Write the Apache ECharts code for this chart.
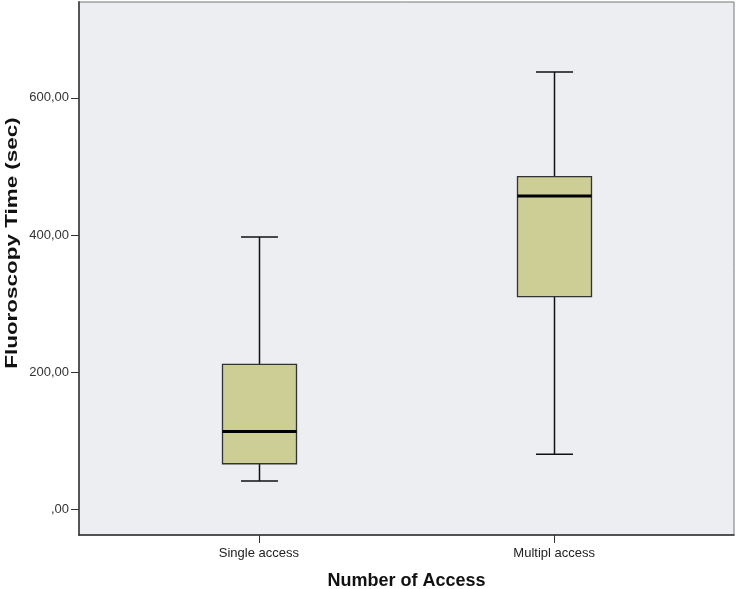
<!DOCTYPE html>
<html>
<head>
<meta charset="utf-8">
<script src="https://cdn.jsdelivr.net/npm/echarts@6/dist/echarts.min.js"></script>
<style>
  html, body { margin: 0; padding: 0; background: #fff; }
  #chart { width: 739px; height: 589px; }
</style>
</head>
<body>
<div id="chart"></div>
<script>
// groups on the x axis
const categories = ['Single access', 'Multipl access'];
const positions = [1, 2];
// five-number summaries (sec)
const mins = [41, 80];
const q1s = [66, 310];
const medians = [113, 457];
const q3s = [211, 485];
const maxs = [397, 638];
// y tick labels
const yTicks = [0, 200, 400, 600];

const boxData = positions.map((p, i) => [p, mins[i], q1s[i], medians[i], q3s[i], maxs[i]]);

const BOX_W = 74;
const CAP_W = 37;
const FONT = 'Liberation Sans, Arial, sans-serif';

function fmt(v) {
  // SPSS style: comma decimal, no leading zero
  return v === 0 ? ',00' : v + ',00';
}

const chart = echarts.init(document.getElementById('chart'));
chart.setOption({
  animation: false,
  textStyle: { fontFamily: FONT },
  grid: {
    left: 79, right: 5, top: 2, bottom: 54,
    show: true,
    backgroundColor: '#eceef1',
    borderColor: '#777',
    borderWidth: 1,
    outerBoundsMode: 'none'
  },
  // y title is stretched along its length in the original, so drawn as a graphic
  graphic: [{
    type: 'text',
    x: 12,
    y: 243,
    rotation: Math.PI / 2,
    scaleX: 1.32,
    style: {
      text: 'Fluoroscopy Time (sec)',
      font: 'bold 17px ' + FONT,
      fill: '#111',
      align: 'center',
      verticalAlign: 'middle'
    }
  }],
  xAxis: {
    type: 'value',
    min: 0.391,
    max: 2.609,
    name: 'Number of Access',
    nameLocation: 'middle',
    nameGap: 37,
    nameTextStyle: { fontSize: 18, fontWeight: 'bold', color: '#111' },
    axisLine: { show: true, onZero: false, lineStyle: { color: '#333', width: 1.5 } },
    axisTick: { show: true, customValues: positions, length: 8, lineStyle: { color: '#333' } },
    axisLabel: {
      customValues: positions,
      formatter: v => categories[Math.round(v) - 1] || '',
      fontSize: 13, color: '#222', margin: 12
    },
    splitLine: { show: false }
  },
  yAxis: {
    type: 'value',
    min: -38,
    max: 740,
    axisLine: { show: true, onZero: false, lineStyle: { color: '#555', width: 2 } },
    axisTick: { show: true, customValues: yTicks, length: 8, lineStyle: { color: '#333' } },
    axisLabel: {
      customValues: yTicks,
      formatter: v => fmt(v),
      fontSize: 13, color: '#333', margin: 10
    },
    splitLine: { show: false }
  },
  series: [{
    type: 'custom',
    data: boxData,
    renderItem: function (params, api) {
      const x = api.value(0);
      const pMin = api.coord([x, api.value(1)]);
      const pQ1 = api.coord([x, api.value(2)]);
      const pMed = api.coord([x, api.value(3)]);
      const pQ3 = api.coord([x, api.value(4)]);
      const pMax = api.coord([x, api.value(5)]);
      const cx = Math.round(pMin[0]) + 0.5;
      const line = { stroke: '#111', lineWidth: 1.5 };
      return {
        type: 'group',
        children: [
          { type: 'line', shape: { x1: cx, y1: pMax[1], x2: cx, y2: pQ3[1] }, style: line },
          { type: 'line', shape: { x1: cx, y1: pQ1[1], x2: cx, y2: pMin[1] }, style: line },
          { type: 'line', shape: { x1: cx - CAP_W / 2, y1: pMax[1], x2: cx + CAP_W / 2, y2: pMax[1] }, style: line },
          { type: 'line', shape: { x1: cx - CAP_W / 2, y1: pMin[1], x2: cx + CAP_W / 2, y2: pMin[1] }, style: line },
          {
            type: 'rect',
            shape: { x: cx - BOX_W / 2, y: pQ3[1], width: BOX_W, height: pQ1[1] - pQ3[1] },
            style: { fill: '#cdcd96', stroke: '#333', lineWidth: 1.3 }
          },
          { type: 'line', shape: { x1: cx - BOX_W / 2, y1: pMed[1], x2: cx + BOX_W / 2, y2: pMed[1] }, style: { stroke: '#000', lineWidth: 3 } }
        ]
      };
    }
  }]
});
</script>
</body>
</html>
